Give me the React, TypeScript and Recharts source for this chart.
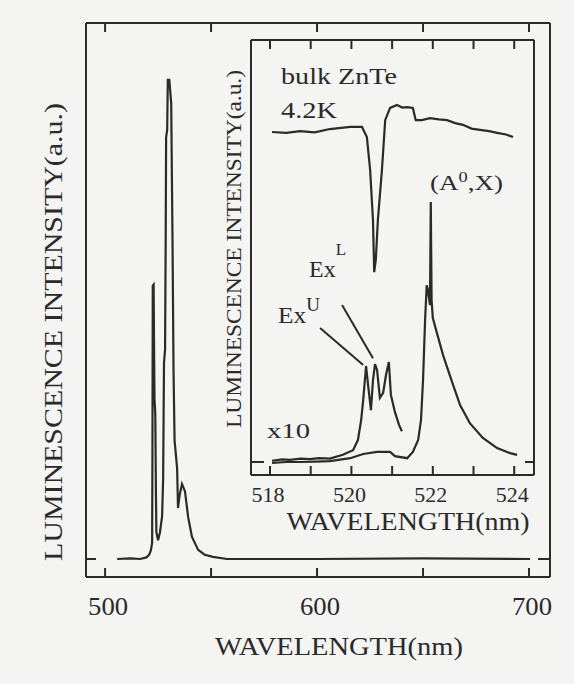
import React from 'react';
import { LineChart, Line, XAxis, YAxis, ReferenceLine } from 'recharts';

// ---------- main spectrum ----------
const mainWavelength = [505.7, 512, 516.5, 519.5, 520.8, 521.6, 522.2, 522.35, 522.5, 522.9, 523.1, 523.3, 523.7, 524.0, 524.2, 525.0, 525.9, 526.9, 527.4, 527.8, 528.3, 528.6, 528.8, 529.3, 529.6, 530.3, 531.2, 531.8, 532.3, 532.8, 533.4, 534.0, 534.4, 535.2, 536.3, 537.7, 539.2, 541.0, 543.9, 547.0, 550.9, 557.5, 600, 650, 700.5];
const mainIntensity = [0, 0.1, 0, 0.3, 0.8, 1.6, 3, 20, 51, 51.2, 40, 30, 27, 12, 5, 3.5, 5, 8, 15, 36.7, 39, 60, 78.7, 80, 89.4, 89.4, 85, 60, 35, 22, 19.5, 16.8, 9.5, 12, 14, 12.6, 7.8, 4.1, 1.7, 0.8, 0.4, 0, 0, 0.1, 0];
const mainTicks = [500, 550, 600, 650, 700];
const mainTickLabels = [500, 600, 700];

// ---------- inset spectra ----------
const reflWavelength = [518.05, 518.4, 518.74, 519.1, 519.47, 519.97, 520.26, 520.38, 520.46, 520.53, 520.56, 520.6, 520.65, 520.75, 520.83, 520.95, 521.12, 521.25, 521.37, 521.51, 521.58, 521.64, 521.73, 521.93, 522.15, 522.35, 522.55, 522.74, 522.95, 523.16, 523.38, 523.58, 523.8, 523.97];
const reflValue = [78.2, 78.0, 78.4, 78.1, 78.9, 79.4, 79.4, 77.0, 69.2, 57.3, 45.0, 48, 57.3, 69.2, 81.0, 83.9, 84.6, 84.0, 84.1, 83.9, 81.0, 81.0, 81.0, 81.5, 81.2, 81.0, 80.3, 79.9, 79.0, 78.7, 78.4, 78.0, 77.6, 77.0];

const x10Wavelength = [518.05, 518.3, 518.49, 518.75, 518.98, 519.2, 519.47, 519.79, 520.04, 520.16, 520.24, 520.29, 520.36, 520.41, 520.48, 520.53, 520.58, 520.63, 520.70, 520.78, 520.85, 520.92, 520.97, 521.07, 521.17, 521.24];
const x10Value = [0.3, 0.6, 0.5, 0.8, 0.7, 0.9, 0.8, 1.7, 2.8, 5.2, 10, 14.7, 22.7, 18.2, 12.3, 19.4, 23.2, 21.8, 15.2, 16.4, 20.6, 23.7, 15.9, 11.8, 8.8, 7.3];

const a0xWavelength = [518.05, 518.4, 518.74, 519.1, 519.47, 519.97, 520.29, 520.63, 520.95, 521.07, 521.37, 521.51, 521.64, 521.71, 521.76, 521.81, 521.85, 521.88, 521.93, 521.95, 521.97, 522.0, 522.1, 522.25, 522.35, 522.5, 522.67, 522.91, 523.23, 523.58, 523.9, 524.07];
const a0xValue = [-0.2, 0, 0, 0.1, 0.2, 0.9, 1.9, 2.4, 2.4, 1.4, 0.9, 2.4, 5.2, 10, 19.4, 33.6, 41.9, 40.8, 37.2, 61.6, 38.4, 34.1, 30.6, 25.4, 22.5, 18.2, 13.5, 9.2, 5.7, 3.3, 2.1, 1.7];

const insetTicks = [518, 519, 520, 521, 522, 523, 524];
const insetTickLabels = [518, 520, 522, 524];

// pointer lines from the Ex^U label (wavelength, value)
const pointerA = [[519.23, 31.75], [520.29, 23.0]];
const pointerB = [[519.77, 37.2], [520.53, 24.6]];

const zip = (xs: number[], ys: number[]) => xs.map((nm, i) => ({ nm, v: ys[i] }));
const mainData = zip(mainWavelength, mainIntensity);
const reflData = zip(reflWavelength, reflValue);
const x10Data = zip(x10Wavelength, x10Value);
const a0xData = zip(a0xWavelength, a0xValue);

const FONT = '"Liberation Serif", "Times New Roman", serif';
const INK = '#2a2a2a';
const BG = '#f4f4f2';

const NoLabel = () => <g />;

const MainTick = (props: any) => {
  const { x, y, payload } = props;
  return (
    <text x={x + 3} y={y + 38} textAnchor="middle" fontFamily={FONT} fontSize={25} fill={INK}
      textLength={40} lengthAdjust="spacingAndGlyphs">{payload.value}</text>
  );
};

const InsetTick = (props: any) => {
  const { x, y, payload } = props;
  return (
    <text x={x - 2} y={y + 27} textAnchor="middle" fontFamily={FONT} fontSize={22} fill={INK}
      textLength={33} lengthAdjust="spacingAndGlyphs">{payload.value}</text>
  );
};

const MAIN_X: [number, number] = [491.0, 709.9];
const MAIN_Y: [number, number] = [-3.36, 100];
const INSET_X: [number, number] = [517.533, 524.486];
const INSET_Y: [number, number] = [-3.08, 100];

export default function App() {
  const abs: React.CSSProperties = { position: 'absolute', left: 0, top: 0 };
  const frame = { stroke: INK, strokeWidth: 2 };
  return (
    <div style={{ position: 'absolute', left: 0, top: 0, width: 574, height: 684, background: BG, overflow: 'hidden' }}>
      <div style={abs}>
        <LineChart width={574} height={684} margin={{ top: 23, right: 24, bottom: 77, left: 86 }}>
          <XAxis xAxisId="mb" orientation="bottom" type="number" dataKey="nm" domain={MAIN_X} allowDataOverflow
            ticks={mainTicks} mirror tick={NoLabel} tickSize={9} axisLine={frame} tickLine={frame} />
          <XAxis xAxisId="mt" orientation="top" type="number" dataKey="nm" domain={MAIN_X} allowDataOverflow
            ticks={mainTicks} mirror tick={NoLabel} tickSize={9} axisLine={frame} tickLine={frame} />
          <XAxis xAxisId="ml" orientation="bottom" type="number" dataKey="nm" domain={MAIN_X} allowDataOverflow
            ticks={mainTickLabels} axisLine={false} tickLine={false} tickSize={0} tickMargin={0} height={30}
            tick={MainTick} />
          <YAxis yAxisId="l" orientation="left" type="number" domain={MAIN_Y} allowDataOverflow ticks={[0]}
            mirror tick={NoLabel} tickSize={10} axisLine={frame} tickLine={frame} />
          <YAxis yAxisId="r" orientation="right" type="number" domain={MAIN_Y} allowDataOverflow ticks={[0]}
            mirror tick={NoLabel} tickSize={12} axisLine={frame} tickLine={frame} />
          <Line xAxisId="mb" yAxisId="l" data={mainData} dataKey="v" type="linear" stroke={INK}
            strokeWidth={2.2} dot={false} isAnimationActive={false} />
        </LineChart>
      </div>
      <div style={abs}>
        <LineChart width={574} height={684} margin={{ top: 40, right: 40, bottom: 179, left: 251 }}>
          <XAxis xAxisId="ib" orientation="bottom" type="number" dataKey="nm" domain={INSET_X} allowDataOverflow
            ticks={insetTicks} mirror tick={NoLabel} tickSize={9} axisLine={frame} tickLine={frame} />
          <XAxis xAxisId="it" orientation="top" type="number" dataKey="nm" domain={INSET_X} allowDataOverflow
            ticks={insetTicks} mirror tick={NoLabel} tickSize={9} axisLine={frame} tickLine={frame} />
          <XAxis xAxisId="il" orientation="bottom" type="number" dataKey="nm" domain={INSET_X} allowDataOverflow
            ticks={insetTickLabels} axisLine={false} tickLine={false} tickSize={0} tickMargin={0} height={30}
            tick={InsetTick} />
          <YAxis yAxisId="il" orientation="left" type="number" domain={INSET_Y} allowDataOverflow ticks={[0]}
            mirror tick={NoLabel} tickSize={13} axisLine={frame} tickLine={frame} />
          <YAxis yAxisId="ir" orientation="right" type="number" domain={INSET_Y} allowDataOverflow ticks={[0]}
            mirror tick={NoLabel} tickSize={9} axisLine={frame} tickLine={frame} />
          <Line xAxisId="ib" yAxisId="il" data={reflData} dataKey="v" type="linear" stroke={INK}
            strokeWidth={2.2} dot={false} isAnimationActive={false} />
          <Line xAxisId="ib" yAxisId="il" data={x10Data} dataKey="v" type="linear" stroke={INK}
            strokeWidth={2.2} dot={false} isAnimationActive={false} />
          <Line xAxisId="ib" yAxisId="il" data={a0xData} dataKey="v" type="linear" stroke={INK}
            strokeWidth={2.2} dot={false} isAnimationActive={false} />
          <ReferenceLine xAxisId="ib" yAxisId="il" ifOverflow="visible" stroke={INK} strokeWidth={2}
            segment={[{ x: pointerA[0][0], y: pointerA[0][1] }, { x: pointerA[1][0], y: pointerA[1][1] }]} />
          <ReferenceLine xAxisId="ib" yAxisId="il" ifOverflow="visible" stroke={INK} strokeWidth={2}
            segment={[{ x: pointerB[0][0], y: pointerB[0][1] }, { x: pointerB[1][0], y: pointerB[1][1] }]} />
        </LineChart>
      </div>
      <svg width={574} height={684} style={{ ...abs, pointerEvents: 'none' }} fontFamily={FONT} fill={INK}>
        <text x={339} y={655} textAnchor="middle" fontSize={25} textLength={248} lengthAdjust="spacingAndGlyphs">WAVELENGTH(nm)</text>
        <text transform="translate(62,332) rotate(-90)" textAnchor="middle" fontSize={26} textLength={458}
          lengthAdjust="spacingAndGlyphs">LUMINESCENCE INTENSITY(a.u.)</text>
        <text x={408} y={530} textAnchor="middle" fontSize={25} textLength={243} lengthAdjust="spacingAndGlyphs">WAVELENGTH(nm)</text>
        <text transform="translate(241,249) rotate(-90)" textAnchor="middle" fontSize={21} textLength={358}
          lengthAdjust="spacingAndGlyphs">LUMINESCENCE INTENSITY(a.u.)</text>
        <text x={281} y={84} fontSize={24} textLength={116} lengthAdjust="spacingAndGlyphs">bulk ZnTe</text>
        <text x={281} y={118} fontSize={24} textLength={56} lengthAdjust="spacingAndGlyphs">4.2K</text>
        <text x={267} y={438} fontSize={22} textLength={43} lengthAdjust="spacingAndGlyphs">x10</text>
        <text x={430} y={190} fontSize={22} textLength={73} lengthAdjust="spacingAndGlyphs">(A<tspan dy={-8} fontSize={15}>0</tspan><tspan dy={8}>,X)</tspan></text>
        <text x={309} y={277} fontSize={24} textLength={37} lengthAdjust="spacingAndGlyphs">Ex<tspan dy={-22} fontSize={17}>L</tspan></text>
        <text x={278} y={323} fontSize={24} textLength={42} lengthAdjust="spacingAndGlyphs">Ex<tspan dy={-12} fontSize={18}>U</tspan></text>
      </svg>
    </div>
  );
}
